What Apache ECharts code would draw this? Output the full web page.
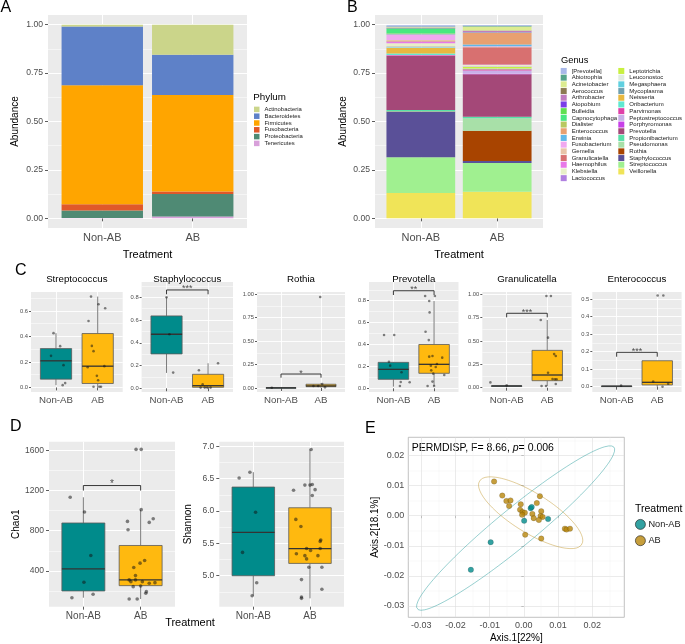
<!DOCTYPE html>
<html><head><meta charset="utf-8">
<script src="https://cdn.jsdelivr.net/npm/echarts@6/dist/echarts.min.js"></script>
<style>html,body{margin:0;padding:0;background:#fff}#c{width:685px;height:644px}</style>
</head><body><div id="c"></div>
<script>
// ---------------- DATA ----------------
const groups = ['Non-AB', 'AB'];

// Panel A: phylum relative abundance
const phyla = ['Actinobacteria','Bacteroidetes','Firmicutes','Fusobacteria','Proteobacteria','Tenericutes'];
const phylumColors = ['#CBD58A','#5E81C8','#FFA500','#E0582A','#4F8A74','#D8A0DA'];
const phylumNonAB = [0.009, 0.304, 0.614, 0.032, 0.040, 0.001];
const phylumAB    = [0.155, 0.208, 0.499, 0.012, 0.116, 0.010];

// Panel B: genus relative abundance
const genera = ['[Prevotella]','Abiotrophia','Acinetobacter','Aerococcus','Arthrobacter','Atopobium','Bulleidia','Capnocytophaga','Dialister','Enterococcus','Erwinia','Fusobacterium','Gemella','Granulicatella','Haemophilus','Klebsiella','Lactococcus','Leptotrichia','Leuconostoc','Megasphaera','Mycoplasma','Neisseria','Oribacterium','Parvimonas','Peptostreptococcus','Porphyromonas','Prevotella','Propionibacterium','Pseudomonas','Rothia','Staphylococcus','Streptococcus','Veillonella'];
const genusColors = ['#A8B8E8','#55A48A','#DCEC90','#8C7A52','#C07CC0','#7A3EE8','#60E050','#48E880','#B8C860','#E8A070','#60B8E8','#F0A8F0','#E8C4A8','#D87070','#E878E8','#E8F0C8','#B080E0','#C8F040','#E0ECE0','#60D0E0','#70A0B0','#E8B840','#60E8D0','#E040A8','#C8B0E8','#C840E8','#A44878','#58E0A8','#A8E0A8','#A84400','#5A5098','#A0F090','#F0E458'];
const genusNonAB = [0.006,0.003,0.002,0.001,0.002,0.001,0.003,0.025,0.002,0.002,0.002,0.027,0.006,0.003,0.008,0.014,0.001,0.002,0.003,0.003,0.001,0.029,0.008,0.002,0.001,0.002,0.279,0.006,0.001,0.002,0.234,0.185,0.131];
const genusAB    = [0.004,0.004,0.020,0.001,0.008,0.001,0.001,0.001,0.001,0.059,0.010,0.002,0.003,0.088,0.003,0.008,0.002,0.008,0.001,0.002,0.001,0.001,0.001,0.004,0.018,0.002,0.220,0.007,0.065,0.156,0.010,0.149,0.137];

// Panel C: box stats [low, q1, median, q3, high] for Non-AB, AB ; points [x(jittered), y]
const cNames = ['Streptococcus','Staphylococcus','Rothia','Prevotella','Granulicatella','Enterococcus'];
const strepBox = [[0.018,0.065,0.209,0.305,0.426],[0.0,0.031,0.167,0.423,0.713]];
const strepPts = [[0.94,0.426],[1.10,0.324],[0.88,0.248],[1.18,0.175],[1.22,0.034],[1.16,0.018],[1.84,0.713],[2.02,0.653],[2.18,0.621],[1.78,0.522],[1.86,0.326],[1.90,0.285],[1.76,0.159],[2.16,0.167],[1.98,0.091],[2.01,0.057],[1.90,0.005],[2.04,0.005],[2.08,0.005]];
const staphBox = [[0.135,0.302,0.475,0.636,0.800],[0.0,0.009,0.023,0.123,0.220]];
const staphPts = [[1.00,0.800],[1.07,0.475],[1.16,0.138],[2.24,0.220],[1.78,0.158],[1.87,0.035],[1.82,0.006],[1.92,0.006],[1.98,0.006],[2.06,0.006]];
const rothiaBox = [[0.0,0.001,0.002,0.003,0.004],[0.005,0.014,0.022,0.040,0.050]];
const rothiaPts = [[0.77,0.003],[1.98,0.970],[2.03,0.043],[1.81,0.021],[1.93,0.021],[2.10,0.007]];
const prevBox = [[0.015,0.082,0.173,0.237,0.240],[0.021,0.137,0.219,0.400,0.797]];
const prevPts = [[0.77,0.487],[1.02,0.487],[0.92,0.207],[0.89,0.243],[1.20,0.146],[1.18,0.058],[1.16,0.021],[1.40,0.055],[1.78,0.843],[2.02,0.843],[1.88,0.797],[1.89,0.693],[1.79,0.517],[1.87,0.440],[1.88,0.289],[1.96,0.295],[2.20,0.280],[2.07,0.222],[1.92,0.207],[2.04,0.195],[1.93,0.164],[1.98,0.134],[2.25,0.122],[1.96,0.061],[1.84,0.021],[2.00,0.021]];
const granBox = [[0.018,0.018,0.019,0.020,0.021],[0.018,0.075,0.136,0.400,0.725]];
const granPts = [[1.00,0.025],[0.60,0.057],[1.98,0.982],[2.09,0.982],[1.84,0.725],[2.02,0.536],[2.17,0.360],[2.21,0.340],[2.02,0.160],[2.13,0.093],[2.19,0.090],[2.23,0.090],[1.97,0.018],[1.86,0.018],[2.21,0.040]];
const enteroBox = [[0.002,0.002,0.003,0.004,0.004],[0.0,0.010,0.025,0.148,0.148]];
const enteroPts = [[1.11,0.006],[2.01,0.520],[2.15,0.520],[1.90,0.029],[2.27,0.017],[2.13,0.0]];
const cTicks = [[0,0.2,0.4,0.6],[0,0.2,0.4,0.6,0.8],[0,0.25,0.5,0.75,1],[0,0.2,0.4,0.6,0.8],[0,0.25,0.5,0.75,1],[0,0.1,0.2,0.3,0.4,0.5]];
const cSigText = ['', '***', '*', '**', '***', '***'];
const cSigY    = [null, 0.864, 0.149, 0.891, 0.797, 0.196];
const cSigEnd  = [null, 0.826, 0.110, 0.852, 0.754, 0.171];

// Panel D: alpha diversity
const chaoBox = [[133,200,420,877,1133],[120,253,310,653,1010]];
const chaoPts = [[0.77,1133],[1.02,987],[1.13,553],[1.01,287],[0.80,133],[1.17,167],
  [2.01,1010],[1.77,893],[1.78,810],[2.15,883],[2.22,920],[2.07,503],[1.99,477],[1.88,433],[1.91,353],[1.91,310],[1.80,310],[1.83,293],[1.87,243],[2.00,250],[1.80,120],[1.94,120],[2.10,193],[2.09,177],[2.25,283],[2.15,277],[2.03,293],[1.92,1610],[2.01,1610]];
const chaoTicks = [400, 800, 1200, 1600];
const chaoSig = {y: 1250, end: 1200, text: '*'};
const shanBox = [[4.69,5.00,5.67,6.37,6.60],[4.65,5.19,5.42,6.05,6.95]];
const shanPts = [[0.94,6.60],[0.75,6.51],[1.04,5.98],[0.81,5.36],[1.06,4.89],[0.98,4.69],
  [2.02,6.95],[2.04,6.41],[1.91,6.40],[2.00,6.40],[2.09,6.33],[1.71,6.32],[2.04,6.24],[1.75,5.87],[1.84,5.76],[2.19,5.55],[2.18,5.53],[1.94,5.42],[2.18,5.42],[2.01,5.39],[1.76,5.34],[1.91,5.31],[1.94,5.26],[2.14,5.31],[1.98,5.13],[2.21,5.13],[1.85,4.94],[1.85,4.67],[1.85,4.65],[2.21,4.79]];
const shanTicks = [5.0, 5.5, 6.0, 6.5, 7.0];

// Panel E: PCoA
const eNonAB = [[-0.0155,-0.0180],[-0.0097,-0.0088],[0.0001,-0.0017],[0.0020,0.0025],[0.0023,0.0029],[0.0071,-0.0011]];
const eAB = [[-0.0087,0.0114],[-0.0063,0.0067],[-0.0051,0.0049],[-0.0039,0.0051],[-0.0043,0.0032],[-0.0009,0.0038],[-0.0011,0.0020],[-0.0004,0.0012],[0.0003,0.0010],[-0.0005,0.0003],[0.0025,0.0006],[0.0029,-0.0008],[0.0038,0.0042],[0.0047,0.0065],[0.0051,0.0015],[0.0049,-0.0001],[0.0055,-0.0004],[0.0044,-0.0014],[0.0004,-0.0063],[0.0051,-0.0076],[0.0120,-0.0043],[0.0125,-0.0046],[0.0135,-0.0043]];
const ellCenter = [[-0.0024,-0.0041],[0.0020,0.0010]];
const ellMajor  = [[0.0287,0.0270],[0.0148,-0.0108]];
const ellMinor  = [[-0.0041,0.0044],[0.0037,0.0051]];
const eTicks = [-0.03,-0.02,-0.01,0.00,0.01,0.02];

// ---------------- STYLE / LAYOUT ----------------
const FONT = "'Liberation Sans', Arial, Helvetica, sans-serif";
const boxFills = ['#008B8B', '#FFB90F'];
const ptColors = ['#008B8B', '#B8860B'];
const ellColors = ['rgba(0,139,139,0.45)', 'rgba(184,134,11,0.45)'];

const grid = [], xAxis = [], yAxis = [], series = [], graphic = [], legend = [];

function mids(t, lo, hi) {
  const s = t[1] - t[0], r = [];
  for (let k = -1; k < t.length; k++) { const v = t[0] + s * (k + 0.5); if (v > lo && v < hi) r.push(+v.toFixed(6)); }
  return r;
}
function fmtDec(d) { return v => Number(v).toFixed(d); }
const catFmt = v => groups[Math.round(v) - 1];

function addPanel(o) {
  const gi = grid.length;
  grid.push({left: o.left, top: o.top, width: o.width, height: o.height, show: true,
    backgroundColor: o.bg || '#EBEBEB', borderWidth: o.borderW || 0, borderColor: o.borderC || '#EBEBEB',
    containLabel: false, outerBoundsMode: 'none'});
  const major = o.major || '#FFFFFF', minor = o.minor || '#FFFFFF', tickC = o.tickC || '#333333';
  const xi = xAxis.length;
  xAxis.push({type: 'value', gridIndex: gi, min: o.xMin, max: o.xMax, position: 'bottom',
    axisLine: {show: false},
    axisTick: {show: true, customValues: o.xTicks, length: o.tickLen || 3, lineStyle: {color: tickC, width: 0.8}},
    axisLabel: {show: true, customValues: o.xTicks, formatter: o.xFmt, fontSize: o.xFont || 9, color: o.labC || '#4D4D4D', margin: o.xMargin || 4, fontFamily: FONT, hideOverlap: false},
    splitLine: {show: true, lineStyle: {color: major, width: o.majorW || 1}},
    name: o.xName || '', nameLocation: 'middle', nameGap: o.xNameGap || 20,
    nameTextStyle: {fontSize: o.nameFont || 11, color: '#000', fontFamily: FONT}});
  if (o.xMinor) {
    xAxis.push({type: 'value', gridIndex: gi, min: o.xMin, max: o.xMax, position: 'top',
      axisLine: {show: false}, axisTick: {show: false, customValues: o.xMinor},
      axisLabel: {show: false, customValues: o.xMinor},
      splitLine: {show: true, lineStyle: {color: minor, width: o.minorW || 0.5}}});
  }
  const yi = yAxis.length;
  yAxis.push({type: 'value', gridIndex: gi, min: o.yMin, max: o.yMax, position: 'left',
    axisLine: {show: false},
    axisTick: {show: true, customValues: o.yTicks, length: o.yTickLen || o.tickLen || 3, lineStyle: {color: tickC, width: 0.8}},
    axisLabel: {show: true, customValues: o.yTicks, formatter: o.yFmt, fontSize: o.yFont || 8.5, color: o.labC || '#4D4D4D', margin: o.yMargin || 4, fontFamily: FONT, hideOverlap: false},
    splitLine: {show: true, lineStyle: {color: major, width: o.majorW || 1}},
    name: o.yName || '', nameLocation: 'middle', nameRotate: 90, nameGap: o.yNameGap || 25,
    nameTextStyle: {fontSize: o.yNameFont || 10, color: '#000', fontFamily: FONT}});
  if (o.yMinor) {
    yAxis.push({type: 'value', gridIndex: gi, min: o.yMin, max: o.yMax, position: 'right',
      axisLine: {show: false}, axisTick: {show: false, customValues: o.yMinor},
      axisLabel: {show: false, customValues: o.yMinor},
      splitLine: {show: true, lineStyle: {color: minor, width: o.minorW || 0.5}}});
  }
  return {gi, xi, yi};
}

// stacked bars: first name in list ends on top (ggplot order); cumulative bases derived from the value arrays
function stackedBars(ax, names, colors, vNon, vAB) {
  const base = [0, 0], vals = [vNon, vAB];
  for (let i = names.length - 1; i >= 0; i--) {
    const data = [0, 1].map(g => { const row = [g + 1, base[g], base[g] + vals[g][i]]; base[g] += vals[g][i]; return row; });
    const col = colors[i];
    series.push({type: 'custom', name: names[i], xAxisIndex: ax.xi, yAxisIndex: ax.yi, silent: true, z: 2,
      data: data, encode: {x: 0, y: [1, 2]}, itemStyle: {color: col},
      renderItem(params, api) {
        const x = api.value(0);
        const p0 = api.coord([x - 0.45, api.value(1)]), p1 = api.coord([x + 0.45, api.value(2)]);
        return {type: 'rect', shape: {x: p0[0], y: p1[1], width: p1[0] - p0[0], height: p0[1] - p1[1]}, style: {fill: col}};
      }});
  }
}

function boxSeries(ax, boxes) {
  return {type: 'custom', xAxisIndex: ax.xi, yAxisIndex: ax.yi, silent: true, z: 2,
    data: boxes.map((b, i) => [i + 1].concat(b)),
    encode: {x: 0, y: [1, 2, 3, 4, 5]},
    renderItem(params, api) {
      const x = api.value(0), lo = api.value(1), q1 = api.value(2), md = api.value(3), q3 = api.value(4), hi = api.value(5);
      const c = (a, b) => api.coord([a, b]);
      const L = c(x - 0.375, q1)[0], R = c(x + 0.375, q1)[0], cx = c(x, md)[0];
      const yLo = c(x, lo)[1], yQ1 = c(x, q1)[1], yMd = c(x, md)[1], yQ3 = c(x, q3)[1], yHi = c(x, hi)[1];
      const st = {stroke: '#5A5A5A', lineWidth: 0.8};
      return {type: 'group', children: [
        {type: 'line', shape: {x1: cx, y1: yLo, x2: cx, y2: yQ1}, style: st},
        {type: 'line', shape: {x1: cx, y1: yQ3, x2: cx, y2: yHi}, style: st},
        {type: 'rect', shape: {x: L, y: yQ3, width: R - L, height: Math.max(yQ1 - yQ3, 0.6)}, style: {fill: boxFills[params.dataIndex], stroke: '#5A5A5A', lineWidth: 0.8}},
        {type: 'line', shape: {x1: L, y1: yMd, x2: R, y2: yMd}, style: {stroke: '#333333', lineWidth: 1.3}}
      ]};
    }};
}
function pointSeries(ax, pts, size) {
  return {type: 'scatter', xAxisIndex: ax.xi, yAxisIndex: ax.yi, silent: true, z: 3, data: pts,
    symbolSize: size, itemStyle: {color: 'rgba(20,20,20,0.65)'}};
}
function sigSeries(ax, y, end, text, fs) {
  series.push({type: 'line', xAxisIndex: ax.xi, yAxisIndex: ax.yi, silent: true, z: 4, symbol: 'none',
    data: [[1, end], [1, y], [2, y], [2, end]], lineStyle: {color: '#222', width: 0.9}});
  series.push({type: 'scatter', xAxisIndex: ax.xi, yAxisIndex: ax.yi, silent: true, z: 4, symbolSize: 0,
    data: [[1.5, y]], label: {show: true, position: 'top', distance: -3.5, formatter: text, fontSize: fs, color: '#222', fontFamily: FONT}});
}
function txt(x, y, text, size, align, extra) {
  graphic.push({type: 'text', x: x, y: y, silent: true,
    style: Object.assign({text: text, fontSize: size, fontFamily: FONT, fill: '#000', align: align || 'left', verticalAlign: 'middle'}, extra || {})});
}

// ---------------- PANEL A ----------------
const axA = addPanel({left: 48, top: 15, width: 199, height: 213, xMin: 0.4, xMax: 2.6, xTicks: [1, 2], xFmt: catFmt,
  xFont: 11, xMargin: 4.5, xName: 'Treatment', xNameGap: 21.5, nameFont: 11,
  yMin: -0.05, yMax: 1.05, yTicks: [0, 0.25, 0.5, 0.75, 1], yFmt: fmtDec(2), yFont: 8.6, yMargin: 5,
  yMinor: mids([0, 0.25, 0.5, 0.75, 1], -0.05, 1.05), yName: 'Abundance', yNameGap: 27.5, yNameFont: 10});
stackedBars(axA, phyla, phylumColors, phylumNonAB, phylumAB);
legend.push({data: phyla, left: 254, top: 106, orient: 'vertical', icon: 'rect', itemWidth: 5.5, itemHeight: 5.5, itemGap: 0,
  selectedMode: false, padding: 0, textStyle: {fontSize: 5.9, lineHeight: 6.8, color: '#1A1A1A', fontFamily: FONT}});
txt(253.3, 97.5, 'Phylum', 9.8);

// ---------------- PANEL B ----------------
const axB = addPanel({left: 375, top: 15, width: 168, height: 213, xMin: 0.4, xMax: 2.6, xTicks: [1, 2], xFmt: catFmt,
  xFont: 11, xMargin: 4.5, xName: 'Treatment', xNameGap: 21.5, nameFont: 11,
  yMin: -0.05, yMax: 1.05, yTicks: [0, 0.25, 0.5, 0.75, 1], yFmt: fmtDec(2), yFont: 8.6, yMargin: 5,
  yMinor: mids([0, 0.25, 0.5, 0.75, 1], -0.05, 1.05), yName: 'Abundance', yNameGap: 27, yNameFont: 10});
stackedBars(axB, genera, genusColors, genusNonAB, genusAB);
const legB = {orient: 'vertical', icon: 'rect', itemWidth: 6, itemHeight: 6, itemGap: 0, selectedMode: false, padding: 0,
  textStyle: {fontSize: 6, lineHeight: 6.7, color: '#1A1A1A', fontFamily: FONT}};
legend.push(Object.assign({data: genera.slice(0, 17), left: 560.7, top: 67.6}, legB));
legend.push(Object.assign({data: genera.slice(17), left: 618.3, top: 67.6}, legB));
txt(561, 60, 'Genus', 9.3);

// ---------------- PANEL C ----------------
const cBoxes = [strepBox, staphBox, rothiaBox, prevBox, granBox, enteroBox];
const cPts = [strepPts, staphPts, rothiaPts, prevPts, granPts, enteroPts];
const cLeft = [31, 141.6, 257, 369, 482.3, 592.3];
const cWidth = [91.7, 91.4, 88, 89.5, 89.3, 89.3];
const cTop = [292, 282, 292, 282, 292, 292];
const cMin = [-0.0357, -0.0325, -0.0427, -0.0338, -0.046, -0.0302];
const cMax = [0.749, 0.934, 1.024, 0.9708, 1.025, 0.5399];
const cDec = [1, 1, 2, 1, 2, 1];
for (let i = 0; i < 6; i++) {
  const ax = addPanel({left: cLeft[i], top: cTop[i], width: cWidth[i], height: 392 - cTop[i],
    xMin: 0.4, xMax: 2.6, xTicks: [1, 2], xFmt: catFmt, xFont: 9.7, xMargin: 3.5,
    yMin: cMin[i], yMax: cMax[i], yTicks: cTicks[i], yFmt: fmtDec(cDec[i]), yFont: 5.8, yMargin: 3, yTickLen: 2,
    yMinor: mids(cTicks[i], cMin[i], cMax[i]), majorW: 0.9});
  series.push(boxSeries(ax, cBoxes[i]));
  series.push(pointSeries(ax, cPts[i], 2.6));
  if (cSigText[i]) sigSeries(ax, cSigY[i], cSigEnd[i], cSigText[i], 9);
  txt(cLeft[i] + cWidth[i] / 2, 279, cNames[i], 9.7, 'center');
}

// ---------------- PANEL D ----------------
const axD1 = addPanel({left: 49, top: 441.7, width: 126, height: 165, xMin: 0.4, xMax: 2.6, xTicks: [1, 2], xFmt: catFmt,
  xFont: 10, xMargin: 4.5, yMin: 43.3, yMax: 1686.7, yTicks: chaoTicks, yFmt: v => String(v), yFont: 8.5, yMargin: 5,
  yMinor: mids(chaoTicks, 43.3, 1686.7), yName: 'Chao1', yNameGap: 28, yNameFont: 10});
series.push(boxSeries(axD1, chaoBox));
series.push(pointSeries(axD1, chaoPts, 3.6));
sigSeries(axD1, chaoSig.y, chaoSig.end, chaoSig.text, 10);
const axD2 = addPanel({left: 219.3, top: 441.7, width: 124.7, height: 165, xMin: 0.4, xMax: 2.6, xTicks: [1, 2], xFmt: catFmt,
  xFont: 10, xMargin: 4.5, yMin: 4.521, yMax: 7.071, yTicks: shanTicks, yFmt: fmtDec(1), yFont: 8.5, yMargin: 5,
  yMinor: mids(shanTicks, 4.521, 7.071), yName: 'Shannon', yNameGap: 26, yNameFont: 10});
series.push(boxSeries(axD2, shanBox));
series.push(pointSeries(axD2, shanPts, 3.6));
txt(190, 623, 'Treatment', 11, 'center');

// ---------------- PANEL E ----------------
const eXMin = -0.0338, eXMax = 0.0294, eYMin = -0.0338, eYMax = 0.0261;
const axE = addPanel({left: 408.3, top: 437.3, width: 216, height: 180, bg: '#FFFFFF', borderW: 0.8, borderC: '#B3B3B3',
  major: '#DEDEDE', minor: '#EEEEEE', majorW: 0.6, minorW: 0.4, tickC: '#B3B3B3', tickLen: 2.5,
  xMin: eXMin, xMax: eXMax, xTicks: eTicks, xFmt: fmtDec(2), xFont: 9, xMargin: 4, xMinor: mids(eTicks, eXMin, eXMax),
  xName: 'Axis.1[22%]', xNameGap: 15.7, nameFont: 10,
  yMin: eYMin, yMax: eYMax, yTicks: eTicks, yFmt: fmtDec(2), yFont: 9, yMargin: 4, yMinor: mids(eTicks, eYMin, eYMax),
  yName: 'Axis.2[18.1%]', yNameGap: 28, yNameFont: 10});
for (let g = 0; g < 2; g++) {
  const pts = [];
  for (let k = 0; k <= 120; k++) {
    const t = 2 * Math.PI * k / 120;
    pts.push([ellCenter[g][0] + Math.cos(t) * ellMajor[g][0] + Math.sin(t) * ellMinor[g][0],
              ellCenter[g][1] + Math.cos(t) * ellMajor[g][1] + Math.sin(t) * ellMinor[g][1]]);
  }
  series.push({type: 'line', xAxisIndex: axE.xi, yAxisIndex: axE.yi, silent: true, z: 2, symbol: 'none', showSymbol: false,
    data: pts, lineStyle: {color: ellColors[g], width: 0.9}});
}
[eNonAB, eAB].forEach((d, g) => {
  series.push({type: 'scatter', name: groups[g], xAxisIndex: axE.xi, yAxisIndex: axE.yi, silent: true, z: 3, data: d,
    symbol: 'circle', symbolSize: 5.5, itemStyle: {color: ptColors[g], borderColor: 'rgba(0,0,0,0.35)', borderWidth: 0.5}});
});
legend.push({data: groups, left: 635, top: 519, orient: 'vertical', icon: 'circle', itemWidth: 10, itemHeight: 10, itemGap: 5.5,
  selectedMode: false, padding: 0, itemStyle: {borderColor: '#222', borderWidth: 0.8},
  textStyle: {fontSize: 9.2, lineHeight: 10, color: '#1A1A1A', fontFamily: FONT, padding: [0, 0, 0, -2]}});
txt(635, 509, 'Treatment', 10.5);
txt(411.7, 448.3, '{a|PERMDISP, F= 8.66, }{i|p}{a|= 0.006}', 10.5, 'left', {rich: {
  a: {fontSize: 10.5, fontFamily: FONT, fill: '#000'}, i: {fontSize: 10.5, fontFamily: FONT, fontStyle: 'italic', fill: '#000'}}});

// panel tags
txt(0.5, 7.5, 'A', 16);
txt(347, 7.5, 'B', 16);
txt(15, 271, 'C', 16);
txt(10, 426.5, 'D', 16);
txt(365, 428.5, 'E', 16);

const chart = echarts.init(document.getElementById('c'), null, {renderer: 'canvas', width: 685, height: 644});
chart.setOption({
  animation: false,
  backgroundColor: '#FFFFFF',
  textStyle: {fontFamily: FONT},
  grid, xAxis, yAxis, series, legend, graphic: {elements: graphic}
});
</script></body></html>
